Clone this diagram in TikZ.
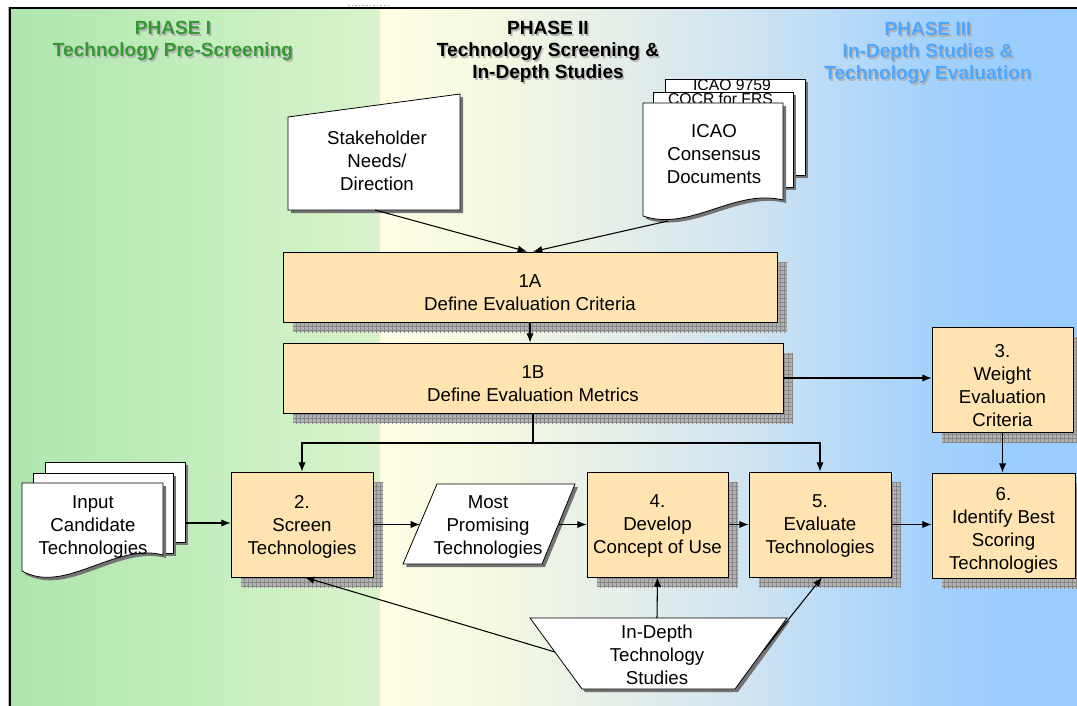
\documentclass[tikz,border=0pt]{standalone}
\usepackage{fontspec}
\setmainfont{Liberation Sans}
\usetikzlibrary{arrows.meta,patterns,shadows}

\definecolor{procfill}{RGB}{255,228,178}
\definecolor{greenhdr}{RGB}{51,153,51}
\definecolor{bluehdr}{RGB}{77,166,255}
\definecolor{shadowgray}{RGB}{178,178,178}
\definecolor{shadowline}{RGB}{135,135,135}
\definecolor{pshadow}{RGB}{115,115,115}

\pgfdeclarehorizontalshading{phaseone}{100bp}{rgb(0bp)=(0.68,0.9,0.68); rgb(25bp)=(0.68,0.9,0.68); rgb(75bp)=(0.85,0.955,0.80); rgb(100bp)=(0.85,0.955,0.80)}
\pgfdeclarehorizontalshading{phasetwo}{100bp}{rgb(0bp)=(1,0.996,0.9); rgb(25bp)=(1,0.996,0.9); rgb(33bp)=(0.96,0.973,0.88); rgb(42bp)=(0.894,0.933,0.91); rgb(50bp)=(0.83,0.9,0.94); rgb(58bp)=(0.725,0.855,0.97); rgb(64bp)=(0.647,0.824,0.99); rgb(70bp)=(0.608,0.804,1); rgb(75bp)=(0.6,0.8,1); rgb(100bp)=(0.6,0.8,1)}

\newcommand\bodyfont{\fontsize{14}{17.25}\selectfont}
\newcommand\smallfont{\fontsize{11.8}{14}\selectfont}
\newcommand\hdrfont{\bfseries\fontsize{14.3}{16.5}\selectfont}

\tikzset{
  conn/.style={line width=0.8pt, -{Latex[length=7pt,width=5.5pt]}},
  plainline/.style={line width=0.8pt},
  proc/.style={draw, line width=0.6pt, fill=procfill, inner sep=0pt,
    general shadow={fill=shadowgray, shadow xshift=7.5pt, shadow yshift=-7.5pt},
    general shadow={pattern=grid, pattern color=shadowline, shadow xshift=7.5pt, shadow yshift=-7.5pt}},
  txt/.style={align=center, inner sep=0pt, font=\bodyfont},
  smalltxt/.style={inner sep=0pt, font=\smallfont},
  hdr/.style={align=center, inner sep=0pt, font=\hdrfont},
  page/.style={draw, line width=0.6pt, fill=white},
  pshade/.style={fill=pshadow},
}

\begin{document}
\begin{tikzpicture}[x=0.75pt,y=-0.75pt]
\useasboundingbox (0,0) rectangle (1077,706);
\fill[white] (0,0) rectangle (1077,706);
\shade[shading=phaseone] (10,8) rectangle (380,706);
\shade[shading=phasetwo] (380,8) rectangle (1077,706);
\draw[gray!60, line width=0.5pt] (8.5,706) -- (8.5,7);
\draw[line width=0.8pt] (10,706) -- (10,8) -- (1077,8);
\draw[gray!60, line width=0.6pt, dash pattern=on 1.2pt off 1.5pt] (348,5) -- (390,5);

% headers
\node[hdr, text=gray!60] (h1s) at (174.5,42.5) {PHASE I\\Technology Pre-Screening};
\node[hdr, text=greenhdr] (h1) at (173,41) {PHASE I\\Technology Pre-Screening};
\node[hdr, text=gray!60] (h2s) at (549.5,53.5) {PHASE II\\Technology Screening \&\\In-Depth Studies};
\node[hdr, text=black] (h2) at (548,52) {PHASE II\\Technology Screening \&\\In-Depth Studies};
\node[hdr, text=gray!60] (h3s) at (929.5,54.5) {PHASE III\\In-Depth Studies \&\\Technology Evaluation};
\node[hdr, text=bluehdr] (h3) at (928,53) {PHASE III\\In-Depth Studies \&\\Technology Evaluation};

% stakeholder (manual input)
\fill[pshade] (291,120) -- (463,97) -- (463,213) -- (291,213) -- cycle;
\draw[page] (288,117) -- (460,94) -- (460,210) -- (288,210) -- cycle;
\node[txt] (stk) at (377,161) {Stakeholder\\Needs/\\Direction};
\coordinate (stkb) at (375,210);

% ICAO document stack
\fill[pshade] (668,82) rectangle (808,178);
\draw[page] (665,79) rectangle (805,175);
\node[smalltxt, anchor=base] (d9759) at (732,91) {ICAO 9759};
\fill[pshade] (656,95) rectangle (796,190);
\draw[page] (653,92) rectangle (793,187);
\node[smalltxt, anchor=base] (dcocr) at (720.5,105) {COCR for FRS};
\fill[pshade] (646,106) -- (786,106) -- (786,203) .. controls (738,191) and (693,235) .. (646,219) -- cycle;
\draw[page] (643,103) -- (783,103) -- (783,200) .. controls (735,188) and (690,232) .. (643,216) -- cycle;
\node[txt] (icao) at (714,154) {ICAO\\Consensus\\Documents};
\coordinate (icaob) at (668,221);

% input candidate stack
\fill[pshade] (48,465) rectangle (188,545);
\draw[page] (45,462) rectangle (185,542);
\fill[pshade] (36,476) rectangle (176,556);
\draw[page] (33,473) rectangle (173,553);
\fill[pshade] (25,486) -- (166,486) -- (166,558) .. controls (118,545) and (68,598) .. (25,574) -- cycle;
\draw[page] (22,483) -- (163,483) -- (163,555) .. controls (115,542) and (65,595) .. (22,571) -- cycle;
\node[txt] (inp) at (93,527) {Input\\Candidate\\Technologies};
\coordinate (inpR) at (185,523);

% most promising (parallelogram)
\fill[pshade] (440,487) -- (578,487) -- (545,567) -- (406,567) -- cycle;
\draw[page] (437,484) -- (575,484) -- (542,564) -- (403,564) -- cycle;
\node[txt] (mp) at (488,527.5) {Most\\Promising\\Technologies};
\coordinate (mpL) at (420,524.5);
\coordinate (mpR) at (558.5,524.5);

% in-depth studies (trapezoid)
\fill[pshade] (533,621) -- (790,621) -- (738,692) -- (585,692) -- cycle;
\draw[page] (530,618) -- (787,618) -- (735,689) -- (582,689) -- cycle;
\node[txt] (ids) at (657,655) {In-Depth\\Technology\\Studies};
\coordinate (tzL) at (555,652);
\coordinate (tzT) at (657,618);
\coordinate (tzR) at (764,650);

% process boxes
\node[proc, minimum width=370.5pt, minimum height=52.5pt] (pA) at (530,287) {};
\node[txt] (pAt) at (530,292.5) {1A\\Define Evaluation Criteria};
\node[proc, minimum width=375pt, minimum height=52.5pt] (pB) at (533,378) {};
\node[txt] (pBt) at (533,384) {1B\\Define Evaluation Metrics};
\node[proc, minimum width=105.75pt, minimum height=78.75pt] (p3) at (1002.5,379.5) {};
\node[txt] (p3t) at (1002.5,386) {3.\\Weight\\Evaluation\\Criteria};
\node[proc, minimum width=106.5pt, minimum height=78.75pt] (p2) at (302,524.5) {};
\node[txt] (p2t) at (302,526.5) {2.\\Screen\\Technologies};
\node[proc, minimum width=105.75pt, minimum height=78.75pt] (p4) at (657.5,524.5) {};
\node[txt] (p4t) at (657.5,526.5) {4.\\Develop\\Concept of Use};
\node[proc, minimum width=106.5pt, minimum height=78.75pt] (p5) at (820,524.5) {};
\node[txt] (p5t) at (820,526.5) {5.\\Evaluate\\Technologies};
\node[proc, minimum width=107.25pt, minimum height=78.75pt] (p6) at (1003.5,525.5) {};
\node[txt] (p6t) at (1003.5,530) {6.\\Identify Best\\Scoring\\Technologies};

% connectors
\draw[conn] (stkb) -- ([xshift=-2.25pt]pA.north);
\draw[conn] (icaob) -- ([xshift=2.25pt]pA.north);
\draw[conn] (pA.south) -- (pA.south |- pB.north);
\draw[conn] (pB.east) -- (pB.east -| p3.west);
\draw[conn] (p3.south) -- (p3.south |- p6.north);
\coordinate (split) at (533,443);
\draw[plainline] (pB.south) -- (split);
\draw[conn] (split) -| (p2.north);
\draw[conn] (split) -| (p5.north);
\draw[conn] (inpR) -- (inpR -| p2.west);
\draw[conn] (p2.east) -- (mpL);
\draw[conn] (mpR) -- (p4.west);
\draw[conn] (p4.east) -- (p5.west);
\draw[conn] (p5.east) -- (p5.east -| p6.west);
\draw[conn] (tzL) -- ([xshift=2.25pt]p2.south);
\draw[conn] (tzT) -- (p4.south);
\draw[conn] (tzR) -- ([xshift=1.5pt]p5.south);
\end{tikzpicture}
\end{document}
